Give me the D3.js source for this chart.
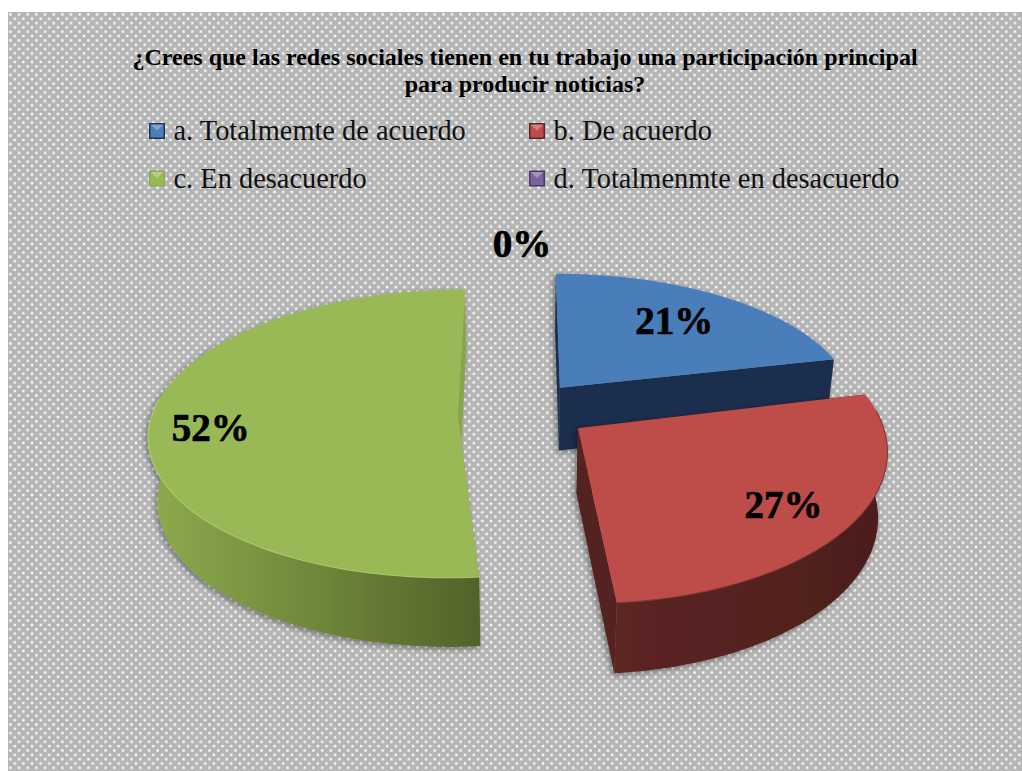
<!DOCTYPE html>
<html><head><meta charset="utf-8">
<script src="https://cdn.jsdelivr.net/npm/d3@7"></script>
<style>html,body{margin:0;padding:0;background:#fff}svg{display:block}</style>
</head><body><div id="chart"></div>
<script>
const titleLines = ["¿Crees que las redes sociales tienen en tu trabajo una participación principal","para producir noticias?"];
const categories = ["a. Totalmemte de acuerdo","b. De acuerdo","c. En desacuerdo","d. Totalmenmte en desacuerdo"];
const values = [21.4,27.4,51.6,0];
const topColors = ["#4a7ebb","#be4d4a","#98b954","#7d60a0"];
const wallLight = ["#1f3555","#5c2523","#8dab4e","#4a3863"];
const wallDark = ["#1b2f4d","#4c1e1c","#526329","#3c2d52"];
const labelRadius = [0.69,0.76,0.83,1.40];
const labelNudge = [[0,-2],[2,4],[8,7],[0,0]];
const explode = [0.21,0.21,0.21,0];
const sliceNudge = [[0,0],[2,0],[0,3],[0,0]];
const widthScale = [1,0.965,1,1];
const drawOrder = [3,0,2,1];

const W=1022,H=771;
const svg=d3.select("#chart").append("svg").attr("width",W).attr("height",H);
const defs=svg.append("defs");
const pat=defs.append("pattern").attr("id","dots").attr("patternUnits","userSpaceOnUse")
  .attr("x",8).attr("y",12).attr("width",8.66).attr("height",8.66);
pat.append("rect").attr("width",8.66).attr("height",8.66).attr("fill","#b5b5b5");
[[1.2,1.2],[5.53,5.53]].forEach(([x,y])=>pat.append("rect").attr("x",x).attr("y",y).attr("width",2.4).attr("height",2.4).attr("fill","#fbfbfb"));
svg.append("rect").attr("x",8).attr("y",12).attr("width",W-8).attr("height",H-12).attr("fill","url(#dots)");

const f=defs.append("filter").attr("id","shadow").attr("x","-10%").attr("y","-10%").attr("width","120%").attr("height","120%");
f.append("feDropShadow").attr("dx",-2).attr("dy",2).attr("stdDeviation",3).attr("flood-color","#000").attr("flood-opacity",0.4);

// perspective projection of the exploded pie
const cx=522,cy=411,Rx=305,Ry=141,kY=0.127,kZ=0.025,D=66,persp=2.4;
const pie=d3.pie().sort(null).value(d=>d)(values);
const pt=(i,a,r,Z)=>{
  const e=explode[i], mid=(pie[i].startAngle+pie[i].endAngle)/2;
  const Xr=r*Math.sin(a)*widthScale[i], Yr=-r*Math.cos(a);
  const Xe=e*Math.sin(mid), Ye=-e*Math.cos(mid);
  const Ya=persp*Ye, Yp=Yr+Ya;
  const w0=1-kY*Ya, w=1-kY*Yp+kZ*Z;
  return [cx+sliceNudge[i][0]+(Xr+Xe)*Rx/w, cy+sliceNudge[i][1]+Ye*Ry+(Yp*Ry+Z*D)/w-Ya*Ry/w0];
};
const line=d3.line();

// title
svg.append("g").selectAll("text").data(titleLines).join("text")
  .attr("x",525).attr("y",(d,i)=>65+i*27)
  .attr("text-anchor","middle").attr("font-family","'Liberation Serif'").attr("font-weight","bold")
  .attr("font-size",24).attr("fill","#000").text(d=>d);

// legend
const lx=d3.scaleOrdinal().domain([0,1]).range([149,529]);
const ly=d3.scaleOrdinal().domain([0,1]).range([131,178.5]);
const lg=svg.append("g").selectAll("g").data(categories).join("g")
  .attr("transform",(d,i)=>`translate(${lx(i%2)},${ly(Math.floor(i/2))})`);
lg.append("rect").attr("x",0).attr("y",-8).attr("width",16).attr("height",16).attr("fill",(d,i)=>wallLight[i]);
lg.append("rect").attr("x",1.5).attr("y",-6.5).attr("width",13).attr("height",13).attr("fill",(d,i)=>topColors[i]);
lg.append("path").attr("d","M1.5,-6.5H14.5L8,-0.5Z").attr("fill","#fff").attr("opacity",0.3);
lg.append("text").attr("x",24.5).attr("y",9).attr("font-family","'Liberation Serif'")
  .attr("font-size",28.4).attr("fill","#111").text(d=>d);

// slices
drawOrder.forEach(i=>{
  const s=pie[i];
  if(s.endAngle-s.startAngle<1e-6) return;
  const N=120;
  const angles=d3.range(N+1).map(j=>s.startAngle+(s.endAngle-s.startAngle)*j/N);
  const g=svg.append("g").attr("filter","url(#shadow)");
  const apexT=pt(i,0,0,0), apexB=pt(i,0,0,1);
  const rim=(Z)=>angles.map(a=>pt(i,a,1,Z));
  const grad=defs.append("linearGradient").attr("id","w"+i).attr("gradientUnits","userSpaceOnUse")
    .attr("x1",d3.min(rim(0),p=>p[0])).attr("x2",d3.max(rim(0),p=>p[0])).attr("y1",0).attr("y2",0);
  grad.append("stop").attr("offset",0).attr("stop-color",wallLight[i]);
  grad.append("stop").attr("offset",1).attr("stop-color",wallDark[i]);
  // radial walls
  [s.startAngle,s.endAngle].forEach(a=>{
    const t=pt(i,a,1,0),b=pt(i,a,1,1);
    g.append("path").attr("d",line([apexT,t,b,apexB])+"Z")
      .attr("fill",i===2?"#87a549":(i===1?"#552220":wallDark[i]));
  });
  // front-facing outer wall
  const front=angles.filter(a=>Math.cos(a)<0.12);
  const top=front.map(a=>pt(i,a,1,0)), bot=front.map(a=>pt(i,a,1,1)).reverse();
  if(front.length) g.append("path").attr("d",line(top.concat(bot))+"Z").attr("fill",`url(#w${i})`);
  // top face
  g.append("path").attr("d",line([apexT].concat(rim(0)))+"Z").attr("fill",topColors[i]);
  // light rim
  if(front.length) g.append("path").attr("d",line(top)).attr("fill","none")
    .attr("stroke",i===2?"#b4d072":(i===1?"#7a302e":"#5f8cc5")).attr("stroke-width",1.1).attr("opacity",0.8);
});

// data labels
const labelPos=(d,i)=>{const m=(d.startAngle+d.endAngle)/2;const p=pt(i,m,labelRadius[i],0);return [p[0]+labelNudge[i][0],p[1]+labelNudge[i][1]];};
svg.append("g").selectAll("text").data(pie).join("text")
  .attr("x",(d,i)=>labelPos(d,i)[0])
  .attr("y",(d,i)=>labelPos(d,i)[1])
  .attr("dy","0.34em").attr("text-anchor","middle")
  .attr("font-family","'Liberation Serif'").attr("font-weight","bold").attr("font-size",39)
  .attr("stroke","#000").attr("stroke-width",0.7).attr("fill","#000")
  .text(d=>Math.round(d.value)+"%");
</script></body></html>
